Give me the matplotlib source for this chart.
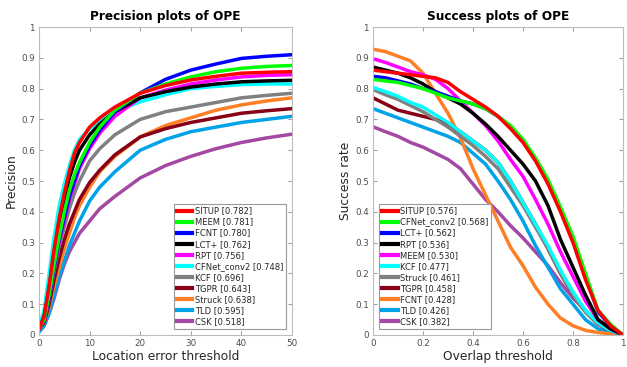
import matplotlib
matplotlib.use("Agg")
import matplotlib.pyplot as plt

# ---------------- data ----------------
colors = ["#ff0000", "#00ff00", "#0000ff", "#000000", "#ff00ff", "#00ffff",
          "#808080", "#880015", "#ff7f27", "#00a2e8", "#a349a4"]

prec_thr = [0, 1, 2, 3, 4, 5, 6, 7, 8, 10, 12, 15, 20, 25, 30, 35, 40, 45, 50]
prec_names = ["SITUP", "MEEM", "FCNT", "LCT+", "RPT", "CFNet_conv2", "KCF",
              "TGPR", "Struck", "TLD", "CSK"]
prec_scores = [0.782, 0.781, 0.780, 0.762, 0.756, 0.748, 0.696, 0.643, 0.638, 0.595, 0.518]
prec_SITUP = [.02, .06, .16, .28, .38, .46, .53, .59, .625, .675, .705, .74, .785, .81, .828, .84, .85, .853, .855]
prec_MEEM = [.02, .05, .13, .23, .32, .40, .47, .52, .56, .625, .675, .73, .785, .815, .838, .855, .866, .872, .875]
prec_FCNT = [.02, .05, .12, .22, .31, .38, .45, .50, .55, .615, .665, .725, .786, .83, .86, .88, .898, .905, .91]
prec_LCT = [.02, .06, .15, .27, .36, .44, .51, .56, .60, .65, .685, .725, .77, .79, .805, .815, .822, .825, .827]
prec_RPT = [.02, .05, .12, .22, .30, .37, .44, .49, .54, .605, .655, .71, .77, .795, .815, .828, .838, .843, .845]
prec_CFNet = [.03, .08, .20, .32, .42, .49, .55, .60, .635, .67, .695, .725, .757, .78, .80, .807, .813, .815, .815]
prec_KCF = [.02, .05, .12, .21, .29, .35, .41, .46, .50, .565, .605, .65, .70, .725, .74, .755, .77, .778, .785]
prec_TGPR = [.02, .04, .10, .18, .25, .31, .36, .40, .44, .495, .535, .585, .643, .67, .69, .705, .72, .728, .735]
prec_Struck = [.02, .04, .09, .16, .22, .28, .33, .38, .42, .48, .53, .58, .643, .68, .705, .73, .747, .76, .77]
prec_TLD = [.01, .03, .07, .13, .19, .24, .29, .33, .37, .435, .48, .53, .60, .635, .66, .675, .69, .70, .71]
prec_CSK = [.01, .03, .07, .12, .18, .23, .27, .30, .33, .37, .41, .45, .51, .55, .58, .605, .625, .64, .652]
prec_curves = [prec_SITUP, prec_MEEM, prec_FCNT, prec_LCT, prec_RPT, prec_CFNet,
               prec_KCF, prec_TGPR, prec_Struck, prec_TLD, prec_CSK]

succ_thr = [0, .05, .1, .15, .2, .25, .3, .35, .4, .45, .5, .55, .6, .65, .7, .75, .8, .85, .9, .95, 1]
succ_names = ["SITUP", "CFNet_conv2", "LCT+", "RPT", "MEEM", "KCF", "Struck",
              "TGPR", "FCNT", "TLD", "CSK"]
succ_scores = [0.576, 0.568, 0.562, 0.536, 0.530, 0.477, 0.461, 0.458, 0.428, 0.426, 0.382]
succ_SITUP = [.86, .855, .85, .845, .84, .835, .82, .79, .765, .74, .71, .67, .625, .565, .49, .40, .30, .18, .08, .03, 0]
succ_CFNet = [.83, .825, .82, .81, .80, .785, .77, .76, .75, .735, .71, .68, .635, .575, .505, .415, .32, .20, .08, .035, 0]
succ_LCT = [.84, .835, .825, .815, .80, .79, .775, .76, .75, .735, .71, .675, .63, .57, .50, .41, .31, .19, .075, .03, 0]
succ_RPT = [.87, .86, .85, .835, .815, .79, .77, .75, .72, .685, .645, .60, .555, .50, .42, .31, .22, .13, .05, .02, 0]
succ_MEEM = [.897, .885, .87, .855, .845, .83, .80, .76, .72, .68, .63, .57, .515, .44, .36, .27, .19, .11, .05, .02, 0]
succ_KCF = [.804, .79, .775, .755, .74, .715, .69, .66, .63, .60, .56, .50, .43, .36, .29, .21, .14, .08, .04, .015, 0]
succ_Struck = [.797, .78, .765, .745, .725, .70, .675, .645, .615, .58, .54, .48, .42, .35, .28, .20, .13, .075, .035, .015, 0]
succ_TGPR = [.77, .75, .73, .72, .71, .70, .685, .66, .63, .60, .56, .50, .43, .36, .28, .20, .13, .075, .035, .015, 0]
succ_FCNT = [.928, .92, .905, .89, .85, .785, .72, .64, .54, .455, .37, .285, .225, .155, .10, .055, .03, .015, .008, .004, 0]
succ_TLD = [.735, .72, .705, .69, .675, .66, .645, .625, .59, .555, .50, .44, .37, .29, .22, .15, .10, .05, .02, .01, 0]
succ_CSK = [.676, .66, .645, .625, .61, .59, .57, .54, .49, .44, .40, .355, .315, .27, .225, .17, .12, .08, .04, .015, 0]
succ_curves = [succ_SITUP, succ_CFNet, succ_LCT, succ_RPT, succ_MEEM, succ_KCF,
               succ_Struck, succ_TGPR, succ_FCNT, succ_TLD, succ_CSK]

# ---------------- figure ----------------
fig = plt.figure(figsize=(6.27, 3.67), dpi=100)
ax1 = fig.add_axes([39/627, 32/367, 253/627, 308/367])
ax2 = fig.add_axes([373/627, 32/367, 250/627, 308/367])

spine_col = "#bdbdbd"
tick_col = "#4d4d4d"


def style(ax):
    for s in ax.spines.values():
        s.set_color(spine_col)
        s.set_linewidth(0.8)
    ax.tick_params(direction="in", top=True, right=True, length=3, width=0.6,
                   color="#8a8a8a", labelsize=6.3, labelcolor=tick_col, pad=3)


def draw(ax, thr, curves, names, scores, title, xlabel, ylabel, xlim, xticks, xtl, legloc):
    order = list(range(len(curves)))[::-1]
    lines = {}
    for i in order:
        ln, = ax.plot(thr, curves[i], color=colors[i], lw=2.5,
                      label=f"{names[i]} [{scores[i]:.3f}]")
        lines[i] = ln
    ax.set_xlim(*xlim)
    ax.set_ylim(0, 1)
    ax.set_xticks(xticks)
    ax.set_xticklabels(xtl)
    ax.set_yticks([i / 10 for i in range(11)])
    ax.set_yticklabels(["0"] + [f"{i/10:.1f}" for i in range(1, 10)] + ["1"])
    ax.set_title(title, fontsize=8.7, fontweight="bold", pad=5)
    ax.set_xlabel(xlabel, fontsize=8.8, color="#262626", labelpad=1)
    ax.set_ylabel(ylabel, fontsize=8.8, color="#262626", labelpad=2)
    style(ax)
    leg = ax.legend([lines[i] for i in range(len(curves))],
                    [f"{names[i]} [{scores[i]:.3f}]" for i in range(len(curves))],
                    loc=legloc, fontsize=6.0, handlelength=1.9, handletextpad=0.3,
                    labelspacing=0.25, borderpad=0.35, fancybox=False, framealpha=1,
                    edgecolor="#9a9a9a", borderaxespad=0.7)
    leg.get_frame().set_linewidth(0.8)
    for t in leg.get_texts():
        t.set_color("#262626")
    for h in leg.get_lines():
        h.set_linewidth(3)


draw(ax1, prec_thr, prec_curves, prec_names, prec_scores,
     "Precision plots of OPE", "Location error threshold", "Precision",
     (0, 50), [0, 10, 20, 30, 40, 50], ["0", "10", "20", "30", "40", "50"], "lower right")
draw(ax2, succ_thr, succ_curves, succ_names, succ_scores,
     "Success plots of OPE", "Overlap threshold", "Success rate",
     (0, 1), [0, .2, .4, .6, .8, 1], ["0", "0.2", "0.4", "0.6", "0.8", "1"], "lower left")

fig.savefig("out.png", dpi=100)
